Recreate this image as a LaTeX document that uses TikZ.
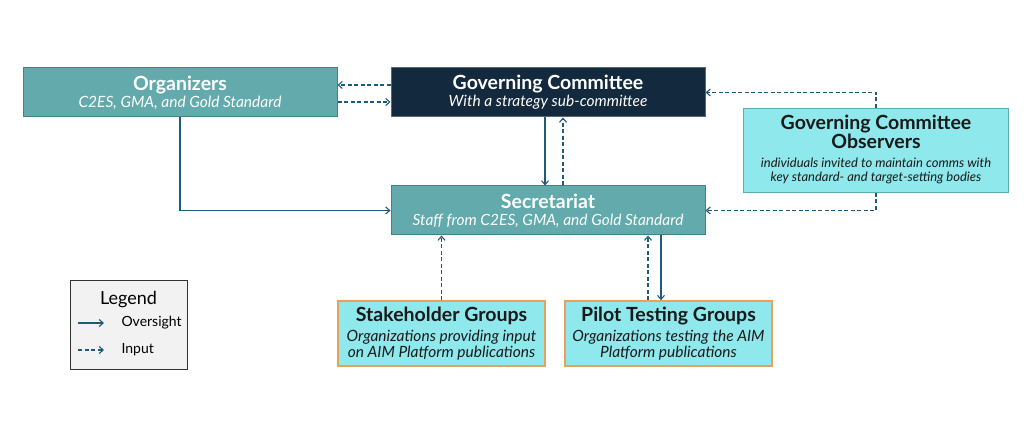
\documentclass[tikz,border=0pt]{standalone}
\usepackage{fontspec}
\setmainfont{Lato}
\usetikzlibrary{positioning,arrows.meta}
\definecolor{orgteal}{HTML}{62AAAC}
\definecolor{orgedge}{HTML}{3E8587}
\definecolor{gcnavy}{HTML}{13293D}
\definecolor{lightcyan}{HTML}{8EE8EC}
\definecolor{obsedge}{HTML}{5AAEB2}
\definecolor{grouporange}{HTML}{E8A15A}
\definecolor{linkblue}{HTML}{1F5A78}
\definecolor{legendgray}{HTML}{F2F2F2}
\newcommand{\boxtitle}[1]{{\fontsize{19.5}{20}\selectfont\bfseries #1}}
\newcommand{\boxsub}[1]{{\fontsize{15.5}{16}\selectfont\itshape #1}}
\newcommand{\obssub}[1]{{\fontsize{13}{14}\selectfont\itshape #1}}

\begin{document}
\begin{tikzpicture}[x=1pt, y=-1pt, >={Straight Barb[length=4pt,width=7pt]},
    box/.style={minimum width=314pt, minimum height=49pt, inner sep=2pt,
                align=center, line width=1pt, font=\fontsize{10}{17}\selectfont},
    tealbox/.style={box, fill=orgteal, draw=orgedge, text=white},
    navybox/.style={box, fill=gcnavy, draw=gcnavy!70, text=white},
    groupbox/.style={box, minimum width=207pt, minimum height=65pt,
                     fill=lightcyan, draw=grouporange, line width=1.6pt, text=black!90,
                     font=\fontsize{10}{16}\selectfont},
    over/.style={linkblue, line width=1.1pt},
    input/.style={over, dash pattern=on 4pt off 2.5pt}]
  \useasboundingbox (0,0) rectangle (1024,427);

  \node[tealbox] (org) at (180, 92.5)
    {\boxtitle{Organizers}\\ \boxsub{C2ES, GMA, and Gold Standard}};
  \node[navybox] (gc) at (548, 92.5)
    {\boxtitle{Governing Committee}\\ \boxsub{With a strategy sub-committee}};
  \node[tealbox] (sec) at (548, 210.5)
    {\boxtitle{Secretariat}\\ \boxsub{Staff from C2ES, GMA, and Gold Standard}};
  \node[box, minimum width=265pt, minimum height=84pt, fill=lightcyan, draw=obsedge,
        text=black!90, font=\fontsize{10}{18}\selectfont] (obs) at (876, 150.5)
    {\boxtitle{Governing Committee}\\ \boxtitle{Observers}\\[1pt]
     \obssub{individuals invited to maintain comms with}\\[-4.5pt]
     \obssub{key standard- and target-setting bodies}\\[-14pt] {}};
  \node[groupbox] (stake) at (441.5, 333.5)
    {\boxtitle{Stakeholder Groups}\\[4pt] \boxsub{Organizations providing input}\\
     \boxsub{on AIM Platform publications}};
  \node[groupbox] (pilot) at (668.5, 333.5)
    {\boxtitle{Pilot Testing Groups}\\[4pt] \boxsub{Organizations testing the AIM}\\
     \boxsub{Platform publications}};

  % links
  \draw[input, ->] ([yshift=7.5pt]gc.west) -- ([yshift=7.5pt]org.east);
  \draw[input, ->] ([yshift=-9.5pt]org.east) -- ([yshift=-9.5pt]gc.west);
  \draw[over, ->] (org.south) |- (sec.west);
  \draw[over, ->] ([xshift=-3pt]gc.south) -- ([xshift=-3pt]sec.north);
  \draw[input, ->] ([xshift=15pt]sec.north) -- ([xshift=15pt]gc.south);
  \draw[input, ->] (obs.north) |- (gc.east);
  \draw[input, ->] (obs.south) |- (sec.east);
  \draw[input, ->] (stake.north) -- (stake.north |- sec.south);
  \coordinate (pin) at ([xshift=-20.5pt]pilot.north);
  \coordinate (pout) at ([xshift=-7.5pt]pilot.north);
  \draw[input, ->] (pin) -- (pin |- sec.south);
  \draw[over, ->] (pout |- sec.south) -- (pout);

  % legend
  \node[draw=black!80, fill=legendgray, line width=1pt, minimum width=117pt,
        minimum height=88pt] (lgd) at (128.5, 325) {};
  \node[font=\fontsize{18}{20}\selectfont, anchor=base] (lgdtitle) at (128.5, 304) {Legend};
  \coordinate (ova) at (78, 323);
  \coordinate (ovb) at (104, 323);
  \coordinate (ina) at (78, 350);
  \coordinate (inb) at (104, 350);
  \draw[over, ->] (ova) -- (ovb);
  \draw[input, ->] (ina) -- (inb);
  \node[anchor=west, font=\fontsize{14}{16}\selectfont] (ovtext) at (118, 323) {Oversight};
  \node[anchor=west, font=\fontsize{14}{16}\selectfont] (intext) at (118, 350) {Input};
\end{tikzpicture}
\end{document}
